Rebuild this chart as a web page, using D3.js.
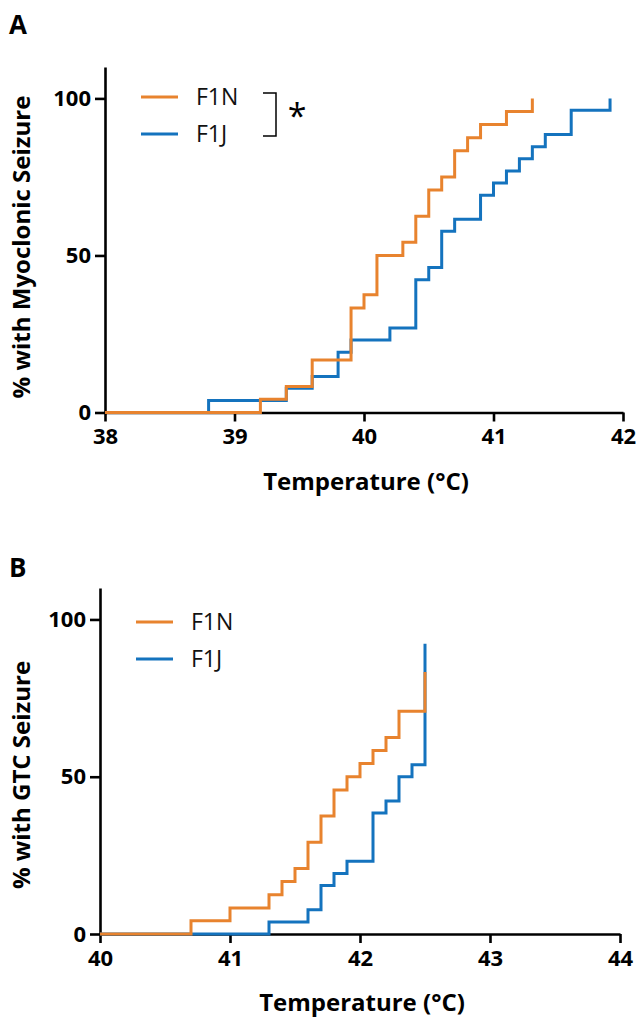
<!DOCTYPE html>
<html lang="en">
<head>
  <meta charset="UTF-8">
  <title>Seizure curves</title>
  <style>
    body{ margin: 0; background: #fff; }
    svg{ display: block; font-family: "Open Sans", sans-serif; }
  </style>
</head>
<body>
<svg width="638" height="1019"></svg>

<script src="https://cdn.jsdelivr.net/npm/d3@7"></script>
<script>
  // data
  var seriesNames = ["F1N", "F1J"];
  var seriesColors = ["#E8832E", "#1473BE"];
  var yTicks = [0, 50, 100];

  // panel A: myoclonic seizure
  var ticksA = [38, 39, 40, 41, 42];
  var tempA_F1N = [38, 39.2, 39.4, 39.6, 39.9, 40.0, 40.1, 40.3, 40.4, 40.5, 40.6, 40.7, 40.8, 40.9, 41.1, 41.3];
  var pctA_F1N  = [0, 4.2, 8.3, 16.7, 33.3, 37.5, 50, 54.2, 62.5, 70.8, 75, 83.3, 87.5, 91.7, 95.8, 100];
  var tempA_F1J = [38, 38.8, 39.4, 39.6, 39.8, 39.9, 40.2, 40.4, 40.5, 40.6, 40.7, 40.9, 41.0, 41.1, 41.2, 41.3, 41.4, 41.6, 41.9];
  var pctA_F1J  = [0, 3.8, 7.7, 11.5, 19.2, 23.1, 26.9, 42.3, 46.2, 57.7, 61.5, 69.2, 73.1, 76.9, 80.8, 84.6, 88.5, 96.2, 100];

  // panel B: GTC seizure
  var ticksB = [40, 41, 42, 43, 44];
  var tempB_F1N = [40, 40.7, 41.0, 41.3, 41.4, 41.5, 41.6, 41.7, 41.8, 41.9, 42.0, 42.1, 42.2, 42.3, 42.5];
  var pctB_F1N  = [0, 4.2, 8.3, 12.5, 16.7, 20.8, 29.2, 37.5, 45.8, 50, 54.2, 58.3, 62.5, 70.8, 83.3];
  var tempB_F1J = [40, 41.3, 41.6, 41.7, 41.8, 41.9, 42.1, 42.2, 42.3, 42.4, 42.5];
  var pctB_F1J  = [0, 3.8, 7.7, 15.4, 19.2, 23.1, 38.5, 42.3, 50, 53.8, 92.3];

  var svg = d3.select('svg');

  function zip(t, p) {
    return t.map(function (v, i) { return {t: v, p: p[i]}; });
  }

  function drawPanel(cfg) {
    var x = d3.scaleLinear().domain([cfg.ticks[0], cfg.ticks[cfg.ticks.length - 1]]).range([cfg.left, cfg.right]);
    var y = d3.scaleLinear().domain([0, 110]).range([cfg.bottom, cfg.top]);
    var g = svg.append('g');

    // panel letter
    g.append('text').attr('x', 9).attr('y', cfg.letterY)
      .attr('font-size', 26).attr('font-weight', 'bold').text(cfg.letter);

    // axes
    var xAxis = g.append('g').attr('transform', 'translate(0,' + cfg.bottom + ')')
      .call(d3.axisBottom(x).tickValues(cfg.ticks).tickFormat(d3.format('d')).tickSizeInner(9).tickSizeOuter(0).tickPadding(7));
    var yAxis = g.append('g').attr('transform', 'translate(' + cfg.left + ',0)')
      .call(d3.axisLeft(y).tickValues(yTicks).tickSizeInner(10).tickSizeOuter(0).tickPadding(4));
    [xAxis, yAxis].forEach(function (a) {
      a.select('.domain').attr('stroke', '#000').attr('stroke-width', 2.6);
      a.selectAll('.tick line').attr('stroke', '#000').attr('stroke-width', 2.6);
      a.selectAll('.tick text').attr('fill', '#000').attr('font-size', 22).attr('font-weight', 'bold')
        .attr('font-family', '"Open Sans", sans-serif');
    });

    // axis titles
    g.append('text').attr('x', (cfg.left + cfg.right) / 2 + 2).attr('y', cfg.bottom + 77)
      .attr('text-anchor', 'middle').attr('font-size', 24).attr('font-weight', 'bold')
      .text('Temperature (°C)');
    g.append('text').attr('transform', 'translate(30,' + cfg.yTitleY + ') rotate(-90)')
      .attr('text-anchor', 'middle').attr('font-size', 24).attr('font-weight', 'bold')
      .text(cfg.yTitle);

    // step curves, F1J underneath F1N
    var line = d3.line().curve(d3.curveStepAfter)
      .x(function (d) { return x(d.t); })
      .y(function (d) { return y(d.p); });
    cfg.series.slice().reverse().forEach(function (s) {
      g.append('path').datum(s.data).attr('d', line)
        .attr('fill', 'none').attr('stroke', s.color).attr('stroke-width', 3);
    });

    // legend
    cfg.series.forEach(function (s, i) {
      var ly = cfg.legendY + i * 37;
      g.append('line').attr('x1', cfg.left + 36).attr('x2', cfg.left + 73)
        .attr('y1', ly).attr('y2', ly).attr('stroke', s.color).attr('stroke-width', 3);
      g.append('text').attr('x', cfg.left + 91).attr('y', ly).attr('dy', '0.36em')
        .attr('font-size', 23).attr('fill', '#111').text(s.name);
    });

    if (cfg.star) {
      var b1 = cfg.legendY - 4, b2 = cfg.legendY + 39, bx = cfg.left + 171;
      g.append('path').attr('d', 'M' + (bx - 13) + ',' + b1 + 'H' + bx + 'V' + b2 + 'H' + (bx - 13))
        .attr('fill', 'none').attr('stroke', '#000').attr('stroke-width', 1.5);
      g.append('text').attr('x', bx + 21).attr('y', (b1 + b2) / 2 + 13)
        .attr('text-anchor', 'middle').attr('font-size', 34).text('*');
    }
  }

  drawPanel({
    letter: 'A', letterY: 34, ticks: ticksA, left: 105, right: 623, top: 67, bottom: 412.5,
    yTitle: '% with Myoclonic Seizure', yTitleY: 247, legendY: 97, star: true,
    series: [
      {name: seriesNames[0], color: seriesColors[0], data: zip(tempA_F1N, pctA_F1N)},
      {name: seriesNames[1], color: seriesColors[1], data: zip(tempA_F1J, pctA_F1J)}
    ]
  });

  drawPanel({
    letter: 'B', letterY: 577, ticks: ticksB, left: 100, right: 620, top: 588, bottom: 934,
    yTitle: '% with GTC Seizure', yTitleY: 775, legendY: 622, star: false,
    series: [
      {name: seriesNames[0], color: seriesColors[0], data: zip(tempB_F1N, pctB_F1N)},
      {name: seriesNames[1], color: seriesColors[1], data: zip(tempB_F1J, pctB_F1J)}
    ]
  });
</script>
</body>
</html>
